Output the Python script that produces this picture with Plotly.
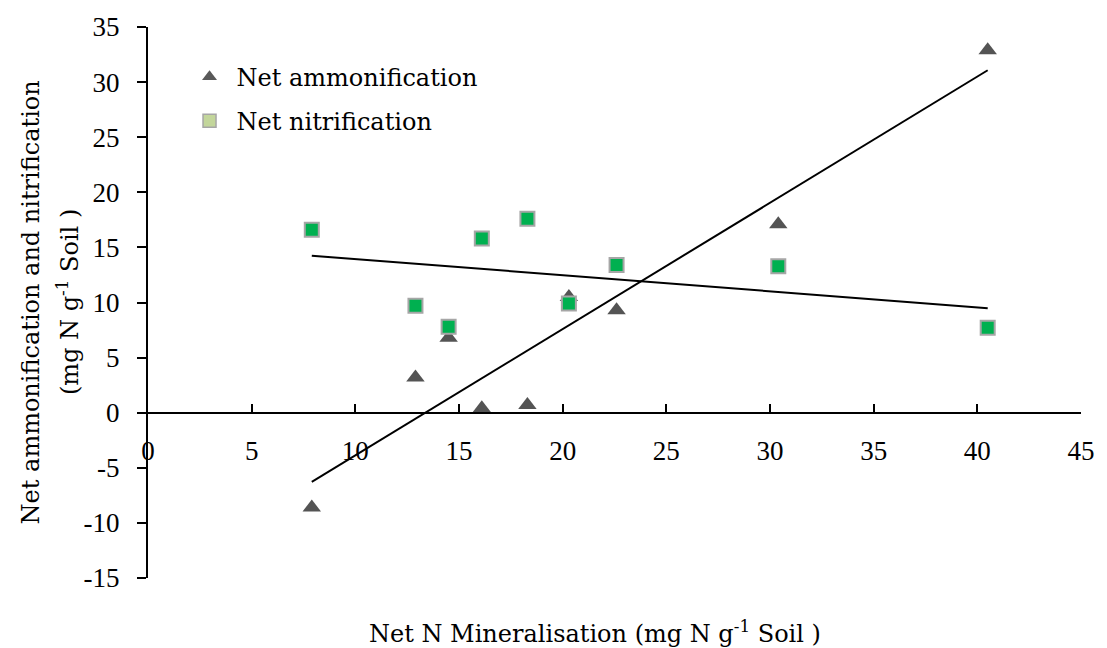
import numpy as np
import plotly.graph_objects as go

# Data
net_n_mineralisation = [7.9, 12.9, 14.5, 16.1, 18.3, 20.3, 22.6, 30.4, 40.5]
net_ammonification = [-8.6, 3.2, 6.8, 0.4, 0.7, 10.5, 9.3, 17.1, 32.9]
net_nitrification = [16.6, 9.7, 7.8, 15.8, 17.6, 9.9, 13.4, 13.3, 7.7]
x_ticks = [0, 5, 10, 15, 20, 25, 30, 35, 40, 45]
y_ticks = [-15, -10, -5, 0, 5, 10, 15, 20, 25, 30, 35]

FONT = "DejaVu Serif"
FS = 24
TICKFONT = dict(family="Liberation Serif", size=27, color="black")

x = np.array(net_n_mineralisation)
xline = np.array([x.min(), x.max()])
amm_fit = np.polyfit(x, net_ammonification, 1)
nit_fit = np.polyfit(x, net_nitrification, 1)

fig = go.Figure()

# trendlines
fig.add_trace(go.Scatter(x=xline, y=np.polyval(amm_fit, xline), mode="lines",
                         line=dict(color="black", width=2), showlegend=False, hoverinfo="skip"))
fig.add_trace(go.Scatter(x=xline, y=np.polyval(nit_fit, xline), mode="lines",
                         line=dict(color="black", width=2), showlegend=False, hoverinfo="skip"))

# data points
fig.add_trace(go.Scatter(x=net_n_mineralisation, y=net_ammonification, mode="markers",
                         marker=dict(symbol="triangle-up", size=16, color="#545454",
                                     line=dict(width=0)),
                         showlegend=False))
fig.add_trace(go.Scatter(x=net_n_mineralisation, y=net_nitrification, mode="markers",
                         marker=dict(symbol="square", size=14, color="#00b050",
                                     line=dict(width=2, color="#a6a6a6")),
                         showlegend=False))

# legend entries
fig.add_trace(go.Scatter(x=[None], y=[None], mode="markers", name="Net ammonification",
                         marker=dict(symbol="triangle-up", size=13, color="#595959"),
                         legend="legend"))
fig.add_trace(go.Scatter(x=[None], y=[None], mode="markers", name="Net nitrification",
                         marker=dict(symbol="square", size=13, color="#c3d69b",
                                     line=dict(width=1.5, color="#a6a6a6")),
                         legend="legend2"))

legend_common = dict(font=dict(family=FONT, size=FS, color="black"), bgcolor="rgba(0,0,0,0)",
                     itemwidth=44, xanchor="left", yanchor="middle")

fig.update_layout(
    width=1107, height=648,
    margin=dict(l=148, r=19, t=24, b=70),
    paper_bgcolor="white", plot_bgcolor="white",
    font=dict(family=FONT, size=FS, color="black"),
    legend=dict(x=0.037, y=0.909, **legend_common),
    legend2=dict(x=0.037, y=0.829, **legend_common),
    xaxis=dict(range=[0, 45], tickvals=x_ticks, ticktext=[str(v) for v in x_ticks],
               showgrid=False, zeroline=False, showline=True, linecolor="black", linewidth=2,
               ticks="inside", ticklen=8, tickwidth=2, tickcolor="black",
               anchor="free", position=0.3, ticklabelstandoff=14,
               tickfont=TICKFONT),
    yaxis=dict(range=[-15, 35], tickvals=y_ticks, ticktext=[str(v) for v in y_ticks],
               showgrid=False, zeroline=False, showline=True, linecolor="black", linewidth=2,
               ticks="outside", ticklen=9, tickwidth=2, tickcolor="black",
               ticklabelstandoff=12,
               tickfont=TICKFONT),
    annotations=[
        dict(text="Net N Mineralisation (mg N g<sup>-1</sup> Soil )", xref="paper", yref="paper",
             x=0.4787, y=-0.0975, xanchor="center", yanchor="middle", showarrow=False,
             font=dict(family=FONT, size=FS)),
        dict(text="Net ammonification and nitrification", xref="paper", yref="paper",
             x=-0.1255, y=0.5, xanchor="center", yanchor="middle", textangle=-90, showarrow=False,
             font=dict(family=FONT, size=FS)),
        dict(text="(mg N g<sup>-1</sup> Soil )", xref="paper", yref="paper",
             x=-0.0862, y=0.5, xanchor="center", yanchor="middle", textangle=-90, showarrow=False,
             font=dict(family=FONT, size=FS)),
    ],
)

fig.write_html("out.html")
